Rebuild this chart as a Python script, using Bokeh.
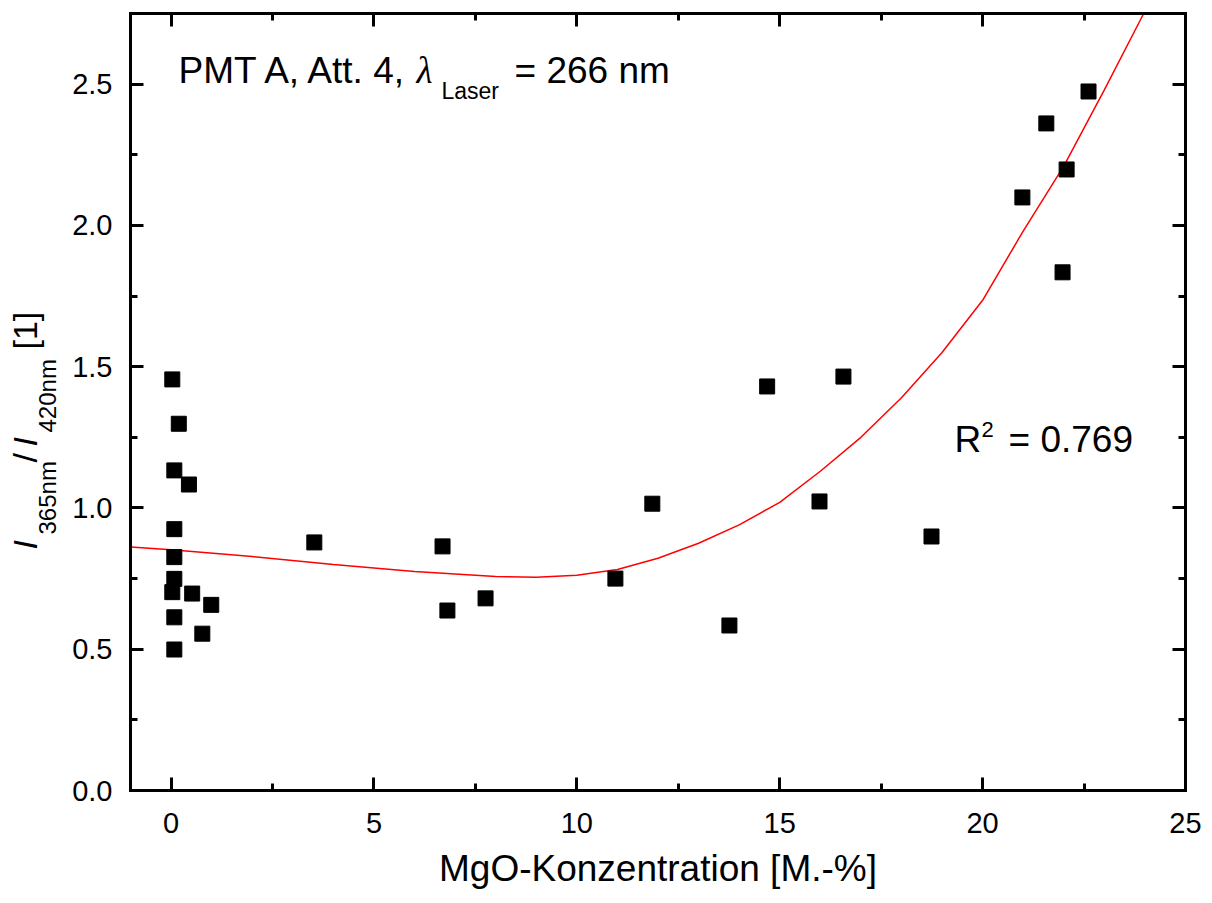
import math
from bokeh.plotting import figure
from bokeh.models import (Range1d, LinearAxis, SingleIntervalTicker, Label,
                          PrintfTickFormatter, CustomJSTickFormatter)
from bokeh.embed import file_html
from bokeh.resources import INLINE

# ---- data ----
mgo = [0.03, 0.19, 0.08, 0.44, 0.08, 0.08, 0.08, 0.03, 0.52, 0.99, 0.08, 0.77, 0.08,
       3.53, 6.69, 6.81, 7.75, 10.95, 11.86, 13.76, 14.69, 15.98, 16.57, 18.74,
       20.98, 21.57, 21.97, 22.07, 22.61]
ratio = [1.455, 1.298, 1.133, 1.083, 0.925, 0.826, 0.749, 0.702, 0.697, 0.657, 0.613, 0.555, 0.499,
         0.878, 0.864, 0.637, 0.68, 0.75, 1.015, 0.584, 1.43, 1.023, 1.465, 0.899,
         2.099, 2.361, 1.834, 2.198, 2.474]
fit_x = [-1, 0, 2, 4, 6, 8, 9, 10, 11, 12, 13, 14, 15, 16, 17, 18, 19, 20, 21, 22, 23, 23.97]
fit_y = [0.862, 0.852, 0.828, 0.80, 0.775, 0.757, 0.755, 0.762, 0.782, 0.822, 0.875, 0.94, 1.02,
         1.13, 1.25, 1.39, 1.55, 1.735, 1.98, 2.21, 2.48, 2.75]

x_ticks_interval = 5
y_ticks_interval = 0.5
x_title = "MgO-Konzentration [M.-%]"
r2_text = "= 0.769"

FONT = "Liberation Sans"
X0, X1, Y0, Y1 = -1, 25, 0, 2.75          # axis box limits
W, H = 1205, 895                           # canvas size
PL, PR, PT, PB = 130, 1185, 13, 790        # axis box in canvas pixels
SX = (PR - PL) / (X1 - X0)
SY = (PB - PT) / (Y1 - Y0)

p = figure(frame_width=W, frame_height=H, min_border=0,
           x_axis_location=None, y_axis_location=None,
           x_range=Range1d(X0 - PL / SX, X1 + (W - PR) / SX),
           y_range=Range1d(Y0 - (H - PB) / SY, Y1 + PT / SY),
           output_backend="svg", toolbar_location=None)
p.xgrid.visible = False
p.ygrid.visible = False
p.outline_line_color = None
p.background_fill_color = "white"
p.border_fill_color = "white"

def style(ax, show_labels=True):
    ax.axis_line_width = 3
    ax.axis_line_color = "black"
    ax.axis_line_cap = "square"
    ax.major_tick_line_width = 3
    ax.minor_tick_line_width = 3
    ax.major_tick_line_color = "black"
    ax.minor_tick_line_color = "black"
    ax.major_tick_in = 13
    ax.major_tick_out = 0
    ax.minor_tick_in = 7
    ax.minor_tick_out = 0
    ax.major_label_text_font = FONT
    ax.major_label_text_color = "black"
    ax.major_label_text_font_size = "29px"
    if not show_labels:
        ax.formatter = CustomJSTickFormatter(code="return '';")
        ax.major_label_standoff = 0

xt = SingleIntervalTicker(interval=x_ticks_interval, num_minor_ticks=2)
yt = SingleIntervalTicker(interval=y_ticks_interval, num_minor_ticks=2)

bottom = LinearAxis(ticker=xt, fixed_location=Y0, bounds=(X0, X1),
                    formatter=PrintfTickFormatter(format="%d"))
style(bottom)
bottom.major_label_standoff = 22
p.add_layout(bottom, "below")

left = LinearAxis(ticker=yt, fixed_location=X0, bounds=(Y0, Y1),
                  formatter=PrintfTickFormatter(format="%.1f"))
style(left)
left.major_label_standoff = 18
p.add_layout(left, "left")

top = LinearAxis(ticker=xt, fixed_location=Y1, bounds=(X0, X1))
style(top, False)
p.add_layout(top, "above")

right = LinearAxis(ticker=yt, fixed_location=X1, bounds=(Y0, Y1))
style(right, False)
p.add_layout(right, "right")

p.line(fit_x, fit_y, line_color="#ff0000", line_width=1.5)
p.scatter(mgo, ratio, marker="square", size=15, fill_color="black", line_color="black")

# canvas pixel -> data helpers for text placement
def DX(px):
    return X0 + (px - PL) / SX
def DY(py):
    return Y1 - (py - PT) / SY

K = 0.37  # observed baseline offset of rendered labels, as a fraction of font size

def lab(text, px, py, size, style="normal", font=FONT, align="left"):
    p.add_layout(Label(x=DX(px), y=DY(py - K * size), text=text, text_font=font,
                       text_font_size=f"{size}px", text_font_style=style,
                       text_color="black", text_align=align, text_baseline="alphabetic"))

def rlab(text, px, py, size, style="normal"):
    p.add_layout(Label(x=DX(px - K * size), y=DY(py), text=text, text_font=FONT,
                       text_font_size=f"{size}px", text_font_style=style,
                       text_color="black", text_align="left", text_baseline="alphabetic",
                       angle=math.pi / 2))

# x-axis title
lab(x_title, (PL + PR) / 2, 882, 37, align="center")

# top-left annotation
lab("PMT A, Att. 4,", 178, 84, 37)
lab("\u03bb", 416, 84, 37, "italic", font="Liberation Serif")
lab("Laser", 441, 99, 23)
lab("= 266 nm", 514, 84, 37)

# R^2
lab("R", 954, 453, 37)
lab("2", 981, 437, 22)
lab(r2_text, 1008, 453, 37)

# rotated y-axis title
rlab("I", 37, 549, 34, "italic")
rlab("365nm", 56, 534, 24)
rlab("/", 37, 462, 34)
rlab("I", 37, 446, 34, "italic")
rlab("420nm", 56, 432, 24)
rlab("[1]", 37, 349, 34)

open("out.html", "w").write(file_html(p, INLINE))
